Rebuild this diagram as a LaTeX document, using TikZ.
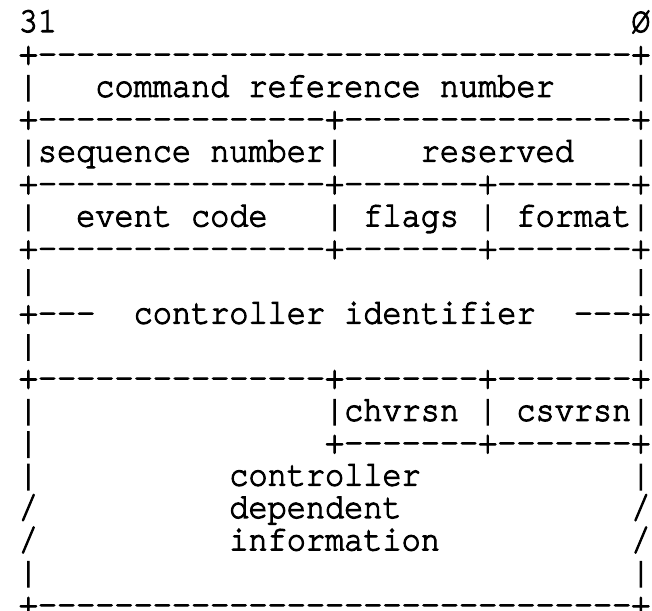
\documentclass[tikz,border=0pt]{standalone}
\usepackage{fontspec}
\setmonofont{TeX Gyre Cursor}[FakeBold=3, FakeStretch=0.9, Ligatures=NoCommon]
\usepackage{tikz}

\tikzset{asciirow/.style={anchor=base west, inner sep=0pt, font=\ttfamily\fontsize{20.17}{20.17}\selectfont}}

\begin{document}
\begin{tikzpicture}
            \useasboundingbox (0,0) rectangle (13.04,12.22);
            \node[asciirow] (r0)  at (0.369,11.580) {31~~~~~~~~~~~~~~~~~~~~~~~~~~~~~~Ø};
            \node[asciirow] (r1)  at (0.369,10.932) {+-------------------------------+};
            \node[asciirow] (r2)  at (0.369,10.284) {|~~~command~reference~number~~~~|};
            \node[asciirow] (r3)  at (0.369,9.636)  {+---------------+---------------+};
            \node[asciirow] (r4)  at (0.369,8.988)  {|sequence~number|~~~~reserved~~~|};
            \node[asciirow] (r5)  at (0.369,8.340)  {+---------------+-------+-------+};
            \node[asciirow] (r6)  at (0.369,7.692)  {|~~event~code~~~|~flags~|~format|};
            \node[asciirow] (r7)  at (0.369,7.044)  {+---------------+-------+-------+};
            \node[asciirow] (r8)  at (0.369,6.396)  {|~~~~~~~~~~~~~~~~~~~~~~~~~~~~~~~|};
            \node[asciirow] (r9)  at (0.369,5.748)  {+---~~controller~identifier~~---+};
            \node[asciirow] (r10) at (0.369,5.100)  {|~~~~~~~~~~~~~~~~~~~~~~~~~~~~~~~|};
            \node[asciirow] (r11) at (0.369,4.452)  {+---------------+-------+-------+};
            \node[asciirow] (r12) at (0.369,3.804)  {|~~~~~~~~~~~~~~~|chvrsn~|~csvrsn|};
            \node[asciirow] (r13) at (0.369,3.156)  {|~~~~~~~~~~~~~~~+-------+-------+};
            \node[asciirow] (r14) at (0.369,2.508)  {|~~~~~~~~~~controller~~~~~~~~~~~|};
            \node[asciirow] (r15) at (0.369,1.860)  {/~~~~~~~~~~dependent~~~~~~~~~~~~/};
            \node[asciirow] (r16) at (0.369,1.212)  {/~~~~~~~~~~information~~~~~~~~~~/};
            \node[asciirow] (r17) at (0.369,0.564)  {|~~~~~~~~~~~~~~~~~~~~~~~~~~~~~~~|};
            \node[asciirow] (r18) at (0.369,-0.084) {+-------------------------------+};
        \end{tikzpicture}
\end{document}
